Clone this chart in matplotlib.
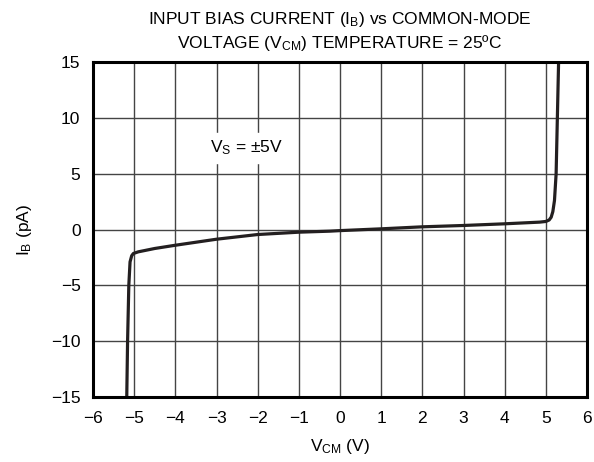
import numpy as np
import matplotlib
matplotlib.use("Agg")
import matplotlib.pyplot as plt

plt.rcParams["font.family"] = ["Liberation Sans", "DejaVu Sans"]
plt.rcParams["mathtext.default"] = "regular"

# I_B vs V_CM curve
vcm = [-5.18, -5.16, -5.13, -5.10, -5.06, -5.02, -4.9, -4.5, -4.0, -3.0, -2.0,
       -1.0, -0.25, 0.0, 1.0, 2.0, 3.0, 4.0, 4.85, 5.0, 5.08, 5.13, 5.17,
       5.21, 5.25, 5.28, 5.31]
ib = [-15.0, -10.0, -5.0, -2.9, -2.35, -2.15, -2.0, -1.7, -1.41, -0.87, -0.45,
      -0.24, -0.15, -0.1, 0.06, 0.24, 0.36, 0.51, 0.66, 0.72, 0.85, 1.1, 1.6,
      2.6, 5.0, 10.0, 15.0]

x_ticks = list(range(-6, 7))
y_ticks = [-15, -10, -5, 0, 5, 10, 15]
y_labels = ["\u221215", "\u221210", "\u22125", "0", "5", "10", "15"]
x_labels = [("\u2212%d" % -v) if v < 0 else str(v) for v in x_ticks]

fig = plt.figure(figsize=(5.94, 4.62), dpi=100)
ax = fig.add_axes([93 / 594, 1 - 397 / 462, 494 / 594, 335 / 462])

ax.plot(vcm, ib, color="#231f20", linewidth=2.3, solid_joinstyle="round")

ax.set_xlim(-6, 6)
ax.set_ylim(-15, 15)
ax.set_xticks(x_ticks)
ax.set_xticklabels(x_labels)
ax.set_yticks(y_ticks)
ax.set_yticklabels(y_labels)
ax.tick_params(length=0, labelsize=12.5)
ax.tick_params(axis="x", pad=10)
ax.tick_params(axis="y", pad=9)
ax.grid(True, color="#444444", linewidth=1.0)
for s in ax.spines.values():
    s.set_linewidth(2.2)
    s.set_color("black")

ax.set_xlabel("V$_{CM}$ (V)", fontsize=12.5, labelpad=8)
ax.set_ylabel("I$_{B}$ (pA)", fontsize=12.5, labelpad=12)
ax.set_title("INPUT BIAS CURRENT (I$_{B}$) vs COMMON-MODE\n"
             "VOLTAGE (V$_{CM}$) TEMPERATURE = 25\u00baC",
             fontsize=12.5, pad=10, linespacing=1.25)

ax.text(-3.15, 7.3, "V$_{S}$ = \u00b15V", fontsize=12.5, ha="left", va="center",
        backgroundcolor="white")

fig.savefig("out.png", dpi=100)
